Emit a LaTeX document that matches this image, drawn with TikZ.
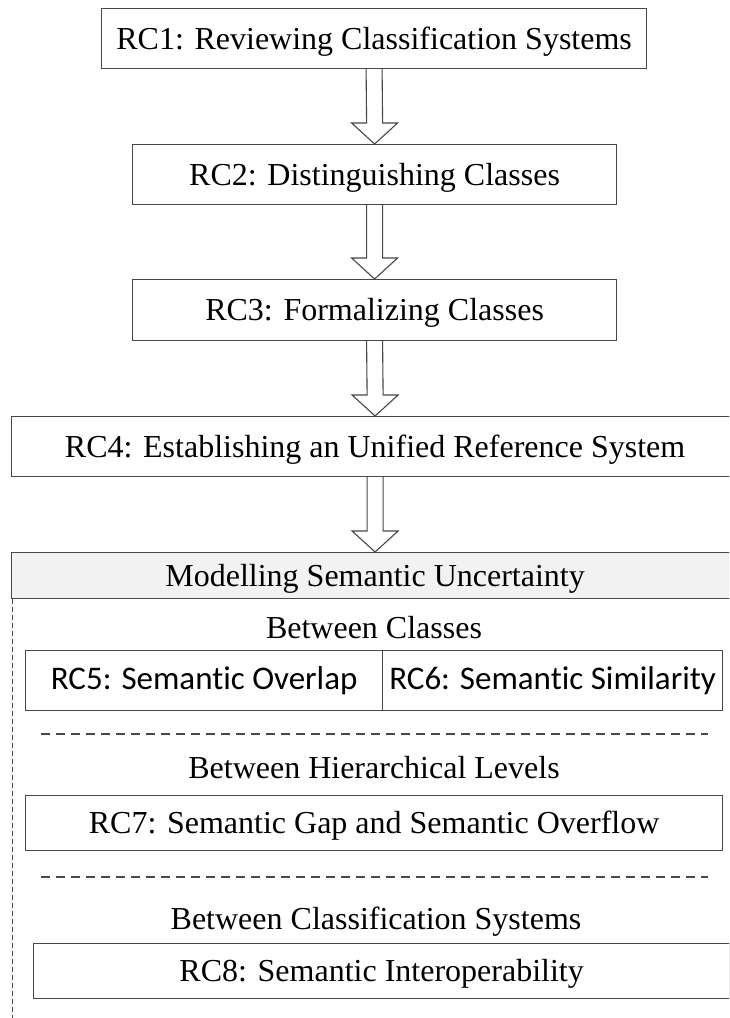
\documentclass[tikz,border=0pt]{standalone}
\usepackage{fontspec}
\setmainfont{Liberation Serif}
\newfontfamily\calibrifont[Ligatures=NoCommon]{Carlito}
\usetikzlibrary{calc}

\definecolor{edge}{RGB}{72,72,72}
\definecolor{headfill}{RGB}{242,242,242}

\tikzset{
  rcbox/.style={draw=edge, line width=1.2pt, fill=white, inner sep=0pt,
    font=\fontsize{32}{36}\selectfont, text height=21pt, text depth=0pt,
    anchor=north west},
  calbox/.style={rcbox, font=\calibrifont\fontsize{33}{38}\selectfont,
    text height=21pt, text depth=4pt},
  headbox/.style={rcbox, fill=headfill},
  caption/.style={inner sep=0pt, anchor=base, font=\fontsize{32}{36}\selectfont},
  sepline/.style={draw=edge, line width=1.2pt, dash pattern=on 9pt off 6pt},
  frameline/.style={draw=edge, line width=1pt, dash pattern=on 5pt off 3pt},
  blockarrow/.style={draw=edge, line width=1.1pt, fill=white, line join=miter}
}

% hollow block arrow from the bottom of #1 to the top of #2
\newcommand{\hollowarrow}[2]{%
  \path[blockarrow]
    ($(#1.south)+(-8pt,0)$) -- ($(#2.north)+(-8pt,21pt)$)
    -- ($(#2.north)+(-23pt,21pt)$) -- (#2.north)
    -- ($(#2.north)+(23pt,21pt)$) -- ($(#2.north)+(8pt,21pt)$)
    -- ($(#1.south)+(8pt,0)$);
}

\begin{document}
\begin{tikzpicture}[x=1pt, y=-1pt]
  \clip (0,0) rectangle (729,1018);
  \fill[white] (0,0) rectangle (729,1018);

  % main chain of research challenges
  \node[rcbox, minimum width=545pt, minimum height=60pt] (rc1) at (101,8)
    {RC1: Reviewing Classification Systems};
  \node[rcbox, minimum width=484pt, minimum height=60pt] (rc2) at (132,144)
    {RC2: Distinguishing Classes};
  \node[rcbox, minimum width=484pt, minimum height=61pt] (rc3) at (132,279)
    {RC3: Formalizing Classes};
  \node[rcbox, minimum width=727pt, minimum height=60pt] (rc4) at (11,416)
    {RC4: Establishing an Unified Reference System};

  % uncertainty group
  \node[headbox, minimum width=727pt, minimum height=46pt] (head) at (11,552)
    {Modelling Semantic Uncertainty};
  \coordinate (frameend) at (12,1018);
  \draw[frameline] ([xshift=1pt]head.south west) -- (frameend);

  \node[caption] (between1) at (374,638) {Between Classes};
  \node[calbox, minimum width=357pt, minimum height=60pt] (rc5) at (25,650)
    {RC5: Semantic Overlap};
  \node[calbox, minimum width=340pt, minimum height=60pt] (rc6) at (382,650)
    {RC6: Semantic Similarity};

  \coordinate (sepA1) at (41,734);
  \coordinate (sepA2) at (708,734);
  \draw[sepline] (sepA1) -- (sepA2);

  \node[caption] (between2) at (374,778) {Between Hierarchical Levels};
  \node[rcbox, minimum width=697pt, minimum height=55pt] (rc7) at (25,795)
    {RC7: Semantic Gap and Semantic Overflow};

  \coordinate (sepB1) at (41,877);
  \coordinate (sepB2) at (708,877);
  \draw[sepline] (sepB1) -- (sepB2);

  \node[caption] (between3) at (376,929) {Between Classification Systems};
  \node[rcbox, minimum width=696pt, minimum height=55pt] (rc8) at (33,943)
    {RC8: Semantic Interoperability};

  % connectors
  \hollowarrow{rc1}{rc2}
  \hollowarrow{rc2}{rc3}
  \hollowarrow{rc3}{rc4}
  \hollowarrow{rc4}{head}
\end{tikzpicture}
\end{document}
